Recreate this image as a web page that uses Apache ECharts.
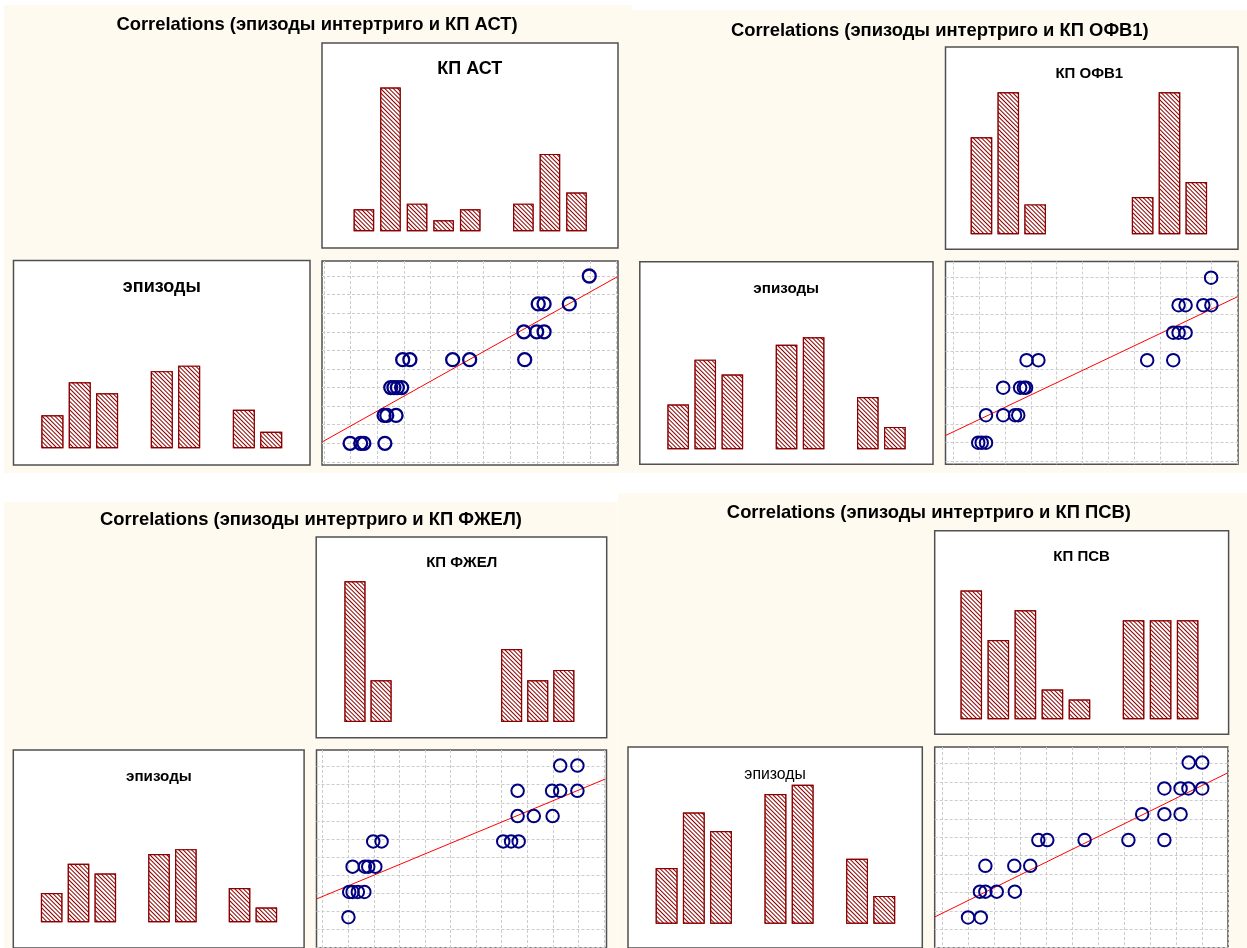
<!DOCTYPE html>
<html><head><meta charset="utf-8">
<script src="https://cdn.jsdelivr.net/npm/echarts@6/dist/echarts.min.js"></script>
<style>html,body{margin:0;padding:0;background:#fff}#c{width:1247px;height:948px}</style>
</head><body><div id="c"></div><script>
// ---------------- DATA ----------------
const titles = ['Correlations (эпизоды интертриго и КП АСТ)', 'Correlations (эпизоды интертриго и КП ОФВ1)',
                'Correlations (эпизоды интертриго и КП ФЖЕЛ)', 'Correlations (эпизоды интертриго и КП ПСВ)'];
const kpLabels = ['КП АСТ', 'КП ОФВ1', 'КП ФЖЕЛ', 'КП ПСВ'];
const episodesLabel = 'эпизоды';
const bins = [1, 2, 3, 4, 5, 6, 7, 8, 9];
const episodesCounts = [6, 12, 10, 0, 14, 15, 0, 7, 3];
const astCounts  = [4, 26, 5, 2, 4, 0, 5, 14, 7];
const ofv1Counts = [13, 19, 4, 0, 0, 0, 5, 19, 7];
const fjelCounts = [27, 8, 0, 0, 0, 0, 14, 8, 10];
const psvCounts  = [13, 8, 11, 3, 2, 0, 10, 10, 10];

const astX = [9.48, 7.56, 7.78, 8.73, 7.02, 7.50, 7.78, 2.46, 2.73, 4.34, 4.98, 7.05, 2.01, 2.13, 2.26, 2.42, 1.76, 1.86, 2.21, 0.48, 0.88, 1.00, 1.79];
const astY = [7, 6, 6, 6, 5, 5, 5, 4, 4, 4, 4, 4, 3, 3, 3, 3, 2, 2, 2, 1, 1, 1, 1];
const astFitX = [-0.55, 10.55], astFitY = [1.06, 6.98];

const ofvX = [9.55, 8.34, 8.60, 9.26, 9.56, 8.14, 8.34, 8.60, 2.68, 3.12, 7.17, 8.14, 1.81, 2.44, 2.58, 2.66, 1.17, 1.81, 2.25, 2.37, 0.88, 1.01, 1.17];
const ofvY = [7, 6, 6, 6, 6, 5, 5, 5, 4, 4, 4, 4, 3, 3, 3, 3, 2, 2, 2, 2, 1, 1, 1];
const ofvFitX = [-0.36, 10.54], ofvFitY = [1.25, 6.31];

const fjelX = [8.86, 9.52, 7.23, 8.55, 8.86, 9.52, 7.23, 7.85, 8.57, 1.70, 2.02, 6.68, 6.98, 7.27, 0.91, 1.38, 1.51, 1.78, 0.78, 0.91, 1.11, 1.36, 0.75];
const fjelY = [7, 7, 6, 6, 6, 6, 5, 5, 5, 4, 4, 4, 4, 4, 3, 3, 3, 3, 2, 2, 2, 2, 1];
const fjelFitX = [-0.45, 10.59], fjelFitY = [1.73, 6.47];

const psvX = [9.04, 9.54, 8.14, 8.74, 9.03, 9.54, 7.32, 8.14, 8.74, 3.48, 3.81, 5.19, 6.81, 8.14, 1.52, 2.59, 3.18, 1.32, 1.52, 1.94, 2.61, 0.88, 1.35];
const psvY = [7, 7, 6, 6, 6, 6, 5, 5, 5, 4, 4, 4, 4, 4, 3, 3, 3, 2, 2, 2, 2, 1, 1];
const psvFitX = [-0.35, 10.48], psvFitY = [1.02, 6.60];

// ---------------- LAYOUT (pixels) ----------------
const layout = [
  {cream:[4,5,632,473], title:[317,25], lab:18, leftLab:18, leftBold:true,
   top:{box:[322,43,618,248], c1:363.9, s:26.575, base:231.3, unit:5.53, barW:20.5, label:[469.8,69.3]},
   left:{box:[13.5,260.5,310,465], c1:52.4, s:27.35, base:448.3, unit:5.51, barW:22, label:[161.8,287.3]},
   sc:{box:[322,261,618,465], L1:443.3, ls:27.88, vgrid:[324,616.6,11], hgrid:[276,461.9,10], sym:13, bw:2.3}},
  {cream:[632,10,1247,473], title:[939.8,30.7], lab:15, leftLab:15.2, leftBold:true,
   top:{box:[945.5,47,1238,249.3], c1:981.45, s:26.86, base:234.3, unit:7.47, barW:21.5, label:[1089.3,74]},
   left:{box:[639.8,261.7,933,464.3], c1:678.2, s:27.08, base:449.3, unit:7.47, barW:21.5, label:[786.2,289.3]},
   sc:{box:[945.5,261.5,1238,464.3], L1:442.7, ls:27.5, vgrid:[953.3,1237.5,11], hgrid:[277.7,461,10], sym:12.5, bw:2}},
  {cream:[4,501.7,617.5,960], title:[311,520], lab:15, leftLab:15.2, leftBold:true,
   top:{box:[316.2,537,606.7,737.7], c1:354.95, s:26.11, base:722, unit:5.21, barW:21, label:[461.7,563.3]},
   left:{box:[13.3,750,304.1,962], c1:51.65, s:26.84, base:934.3, unit:5.21, barW:21.5, label:[158.9,777.3]},
   sc:{box:[316.5,750,606.5,962], L1:929, ls:27.05, vgrid:[322.7,603.9,11], hgrid:[766.7,947,10], sym:12.5, bw:2}},
  {cream:[618,493.3,1247,960], title:[928.9,512.7], lab:15, leftLab:15.8, leftBold:false,
   top:{box:[934.7,530.7,1228.6,734.3], c1:971.3, s:27.04, base:719.3, unit:9.91, barW:21.5, label:[1081.6,556.7]},
   left:{box:[628,747,922.3,962], c1:666.6, s:27.21, base:936, unit:9.91, barW:21.8, label:[775.1,775]},
   sc:{box:[934.7,747,1228,962], L1:929.3, ls:27.6, vgrid:[942.7,1228.3,11], hgrid:[763.7,947.7,10], sym:12.5, bw:2}}
];
const kpCounts = [astCounts, ofv1Counts, fjelCounts, psvCounts];
const scX = [astX, ofvX, fjelX, psvX], scY = [astY, ofvY, fjelY, psvY];
const fitX = [astFitX, ofvFitX, fjelFitX, psvFitX], fitY = [astFitY, ofvFitY, fjelFitY, psvFitY];

// ---------------- BUILD ----------------
const FONT = '"Liberation Sans", Arial, sans-serif';
const grids = [], xAxes = [], yAxes = [], series = [], graphics = [];
const BORDER = '#505050', HATCH = '#8b0000', NAVY = '#000080';
function addGrid(box, extra) {
  grids.push(Object.assign({left: box[0], top: box[1], width: box[2] - box[0], height: box[3] - box[1], containLabel: false}, extra || {}));
  return grids.length - 1;
}
function hiddenAxis(g, min, max) { return {type: 'value', gridIndex: g, min: min, max: max, show: false}; }
function lineAxis(g, n) {
  return {type: 'value', gridIndex: g, min: 0, max: n, interval: 1,
    axisLine: {show: false}, axisTick: {show: false}, axisLabel: {show: false},
    splitLine: {show: true, showMinLine: true, showMaxLine: true, lineStyle: {color: '#cccccc', type: [3, 2], width: 1}}};
}
const boxStyle = {show: true, backgroundColor: '#ffffff', borderColor: BORDER, borderWidth: 1.5};
const decal = {symbol: 'rect', symbolSize: 1, color: HATCH, backgroundColor: '#ffffff', dashArrayX: [1, 0], dashArrayY: [1, 2], rotation: Math.PI / 4};

function addHist(h, counts) {
  const g = addGrid(h.box, boxStyle);
  xAxes.push(hiddenAxis(g, 1 + (h.box[0] - h.c1) / h.s, 1 + (h.box[2] - h.c1) / h.s));
  yAxes.push(hiddenAxis(g, -(h.box[3] - h.base) / h.unit, (h.base - h.box[1]) / h.unit));
  const data = [];
  bins.forEach((b, i) => { if (counts[i] > 0) data.push([b, counts[i]]); });
  series.push({type: 'bar', xAxisIndex: xAxes.length - 1, yAxisIndex: yAxes.length - 1, barWidth: h.barW, data: data,
    silent: true, itemStyle: {color: '#ffffff', borderColor: HATCH, borderWidth: 1.2, decal: decal}});
}
function text(pos, str, size, bold) {
  graphics.push({type: 'text', x: pos[0], y: pos[1], z: 50,
    style: {text: str, font: (bold ? 'bold ' : '') + size + 'px ' + FONT, fill: '#000', textAlign: 'center', textVerticalAlign: 'middle', verticalAlign: 'middle'}});
}

layout.forEach((p, k) => {
  graphics.push({type: 'rect', z: -10, silent: true, shape: {x: p.cream[0], y: p.cream[1], width: p.cream[2] - p.cream[0], height: p.cream[3] - p.cream[1]}, style: {fill: '#fffaf0'}});
  text(p.title, titles[k], 18.4, true);
  addHist(p.top, kpCounts[k]);
  text(p.top.label, kpLabels[k], p.lab, true);
  addHist(p.left, episodesCounts);
  text(p.left.label, episodesLabel, p.leftLab, p.leftBold);
  // scatter box
  const sc = p.sc, t = p.top;
  const gb = addGrid(sc.box, boxStyle);
  xAxes.push(hiddenAxis(gb, 0, 1)); yAxes.push(hiddenAxis(gb, 0, 1));
  const gv = addGrid([sc.vgrid[0], sc.box[1], sc.vgrid[1], sc.box[3]]);
  xAxes.push(lineAxis(gv, sc.vgrid[2])); yAxes.push(hiddenAxis(gv, 0, 1));
  const gh = addGrid([sc.box[0], sc.hgrid[0], sc.box[2], sc.hgrid[1]]);
  xAxes.push(hiddenAxis(gh, 0, 1)); yAxes.push(lineAxis(gh, sc.hgrid[2]));
  const gd = addGrid(sc.box);
  xAxes.push(hiddenAxis(gd, 1 + (sc.box[0] - t.c1) / t.s, 1 + (sc.box[2] - t.c1) / t.s));
  yAxes.push(hiddenAxis(gd, 1 + (sc.L1 - sc.box[3]) / sc.ls, 1 + (sc.L1 - sc.box[1]) / sc.ls));
  const xi = xAxes.length - 1, yi = yAxes.length - 1;
  series.push({type: 'line', xAxisIndex: xi, yAxisIndex: yi, silent: true, symbol: 'none', z: 3,
    data: fitX[k].map((v, i) => [v, fitY[k][i]]), lineStyle: {color: '#ff0000', width: 1}});
  series.push({type: 'scatter', xAxisIndex: xi, yAxisIndex: yi, silent: true, symbol: 'circle', symbolSize: sc.sym, z: 4,
    data: scX[k].map((v, i) => [v, scY[k][i]]),
    itemStyle: {color: 'rgba(0,0,0,0)', borderColor: NAVY, borderWidth: sc.bw, opacity: 1}});
});

const chart = echarts.init(document.getElementById('c'), null, {renderer: 'canvas'});
chart.setOption({animation: false, backgroundColor: '#ffffff', grid: grids, xAxis: xAxes, yAxis: yAxes, series: series, graphic: graphics});
</script></body></html>
